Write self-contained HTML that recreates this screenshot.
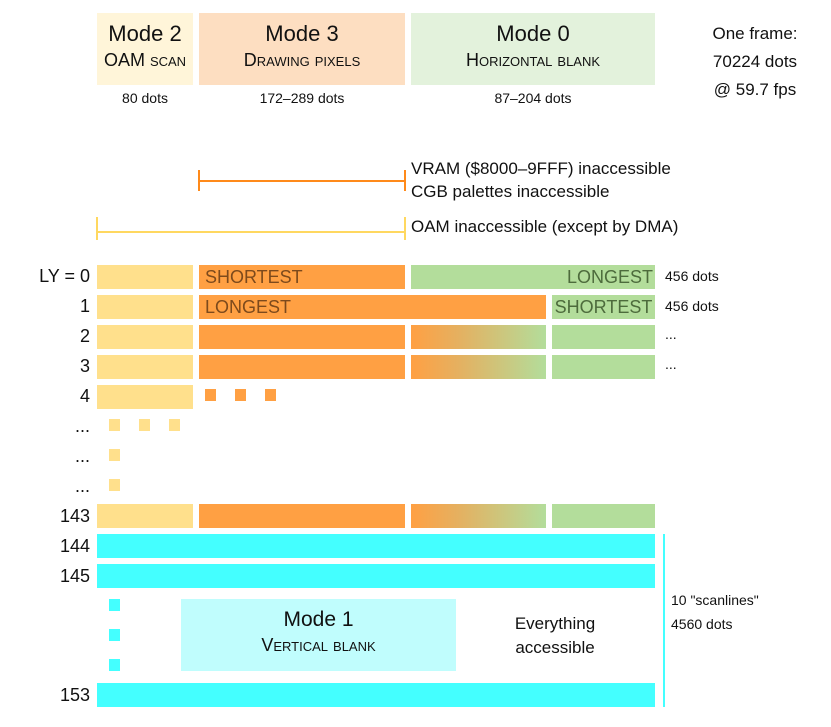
<!DOCTYPE html>
<html><head><meta charset="utf-8"><style>
body{margin:0;width:831px;height:727px;background:#fff;position:relative;overflow:hidden;font-family:"Liberation Sans","DejaVu Sans",sans-serif;color:#111}
div{position:absolute;box-sizing:border-box}
.t{white-space:nowrap}
.y{background:#ffe08c}.o{background:#ffa043}.g{background:#b3dd9b}.c{background:#44ffff}
.gr{background:linear-gradient(to right,#ffa043,#e5b060 35%,#b3dd9b)}
.lbl{width:60px;text-align:right;left:30px;font-size:18px}
.bt{font-size:18px;line-height:24px;padding:0 6px}
.sc{font-variant:small-caps}
</style></head><body>
<div style="left:97px;top:13px;width:96px;height:72px;background:#fff5d9;text-align:center">
 <div class="t" style="width:100%;top:8px;font-size:22px">Mode 2</div>
 <div class="t sc" style="width:100%;top:37px;font-size:18px">OAM scan</div></div>
<div style="left:199px;top:13px;width:206px;height:72px;background:#fddec1;text-align:center">
 <div class="t" style="width:100%;top:8px;font-size:22px">Mode 3</div>
 <div class="t sc" style="width:100%;top:37px;font-size:18px">Drawing pixels</div></div>
<div style="left:411px;top:13px;width:244px;height:72px;background:#e3f2dc;text-align:center">
 <div class="t" style="width:100%;top:8px;font-size:22px">Mode 0</div>
 <div class="t sc" style="width:100%;top:37px;font-size:18px">Horizontal blank</div></div>
<div class="t" style="left:97px;width:96px;top:90px;text-align:center;font-size:14px">80 dots</div>
<div class="t" style="left:199px;width:206px;top:90px;text-align:center;font-size:14px">172–289 dots</div>
<div class="t" style="left:411px;width:244px;top:90px;text-align:center;font-size:14px">87–204 dots</div>
<div class="t" style="left:690px;width:130px;top:20px;text-align:center;font-size:17px;line-height:28px">One frame:<br>70224 dots<br>@ 59.7 fps</div>

<div style="left:199px;top:180px;width:206px;height:2px;background:#ff8a1a"></div>
<div style="left:198px;top:170px;width:2px;height:21px;background:#ff8a1a"></div>
<div style="left:404px;top:170px;width:2px;height:21px;background:#ff8a1a"></div>
<div class="t" style="left:411px;top:157px;font-size:17px;line-height:23px">VRAM ($8000–9FFF) inaccessible<br>CGB palettes inaccessible</div>
<div style="left:97px;top:231px;width:308px;height:2px;background:#ffd860"></div>
<div style="left:96px;top:217px;width:2px;height:23px;background:#ffd860"></div>
<div style="left:404px;top:217px;width:2px;height:23px;background:#ffd860"></div>
<div class="t" style="left:411px;top:217px;font-size:17px">OAM inaccessible (except by DMA)</div>

<div class="lbl t" style="top:266px">LY = 0</div>
<div class="y" style="left:97px;top:265px;width:96px;height:24px"></div>
<div class="o bt t" style="left:199px;top:265px;width:206px;height:24px;color:#7d4a1c">SHORTEST</div>
<div class="g bt t" style="left:411px;top:265px;width:244px;height:24px;color:#4d6b3c;text-align:right;padding-right:2px">LONGEST</div>
<div class="t" style="left:665px;top:268px;font-size:14px">456 dots</div>

<div class="lbl t" style="top:296px">1</div>
<div class="y" style="left:97px;top:295px;width:96px;height:24px"></div>
<div class="o bt t" style="left:199px;top:295px;width:347px;height:24px;color:#7d4a1c">LONGEST</div>
<div class="g bt t" style="left:552px;top:295px;width:103px;height:24px;color:#4d6b3c;padding:0;text-align:center">SHORTEST</div>
<div class="t" style="left:665px;top:298px;font-size:14px">456 dots</div>

<div class="lbl t" style="top:326px">2</div>
<div class="y" style="left:97px;top:325px;width:96px;height:24px"></div>
<div class="o" style="left:199px;top:325px;width:206px;height:24px"></div>
<div class="gr" style="left:411px;top:325px;width:135px;height:24px"></div>
<div class="g" style="left:552px;top:325px;width:103px;height:24px"></div>
<div class="t" style="left:665px;top:326px;font-size:14px">...</div>

<div class="lbl t" style="top:356px">3</div>
<div class="y" style="left:97px;top:355px;width:96px;height:24px"></div>
<div class="o" style="left:199px;top:355px;width:206px;height:24px"></div>
<div class="gr" style="left:411px;top:355px;width:135px;height:24px"></div>
<div class="g" style="left:552px;top:355px;width:103px;height:24px"></div>
<div class="t" style="left:665px;top:356px;font-size:14px">...</div>

<div class="lbl t" style="top:386px">4</div>
<div class="y" style="left:97px;top:385px;width:96px;height:24px"></div>
<div class="o" style="left:205px;top:389px;width:11px;height:12px"></div>
<div class="o" style="left:235px;top:389px;width:11px;height:12px"></div>
<div class="o" style="left:265px;top:389px;width:11px;height:12px"></div>

<div class="lbl t" style="top:416px">...</div>
<div class="y" style="left:109px;top:419px;width:11px;height:12px"></div>
<div class="y" style="left:139px;top:419px;width:11px;height:12px"></div>
<div class="y" style="left:169px;top:419px;width:11px;height:12px"></div>
<div class="lbl t" style="top:446px">...</div>
<div class="y" style="left:109px;top:449px;width:11px;height:12px"></div>
<div class="lbl t" style="top:476px">...</div>
<div class="y" style="left:109px;top:479px;width:11px;height:12px"></div>

<div class="lbl t" style="top:506px">143</div>
<div class="y" style="left:97px;top:504px;width:96px;height:24px"></div>
<div class="o" style="left:199px;top:504px;width:206px;height:24px"></div>
<div class="gr" style="left:411px;top:504px;width:135px;height:24px"></div>
<div class="g" style="left:552px;top:504px;width:103px;height:24px"></div>

<div class="lbl t" style="top:536px">144</div>
<div class="c" style="left:97px;top:534px;width:558px;height:24px"></div>
<div class="lbl t" style="top:566px">145</div>
<div class="c" style="left:97px;top:564px;width:558px;height:24px"></div>
<div class="c" style="left:109px;top:599px;width:11px;height:12px"></div>
<div class="c" style="left:109px;top:629px;width:11px;height:12px"></div>
<div class="c" style="left:109px;top:659px;width:11px;height:12px"></div>
<div style="left:181px;top:599px;width:275px;height:72px;background:#c0fdfd;text-align:center">
 <div class="t" style="width:100%;top:9px;font-size:21px">Mode 1</div>
 <div class="t sc" style="width:100%;top:36px;font-size:18px">Vertical blank</div></div>
<div class="t" style="left:490px;width:130px;top:612px;text-align:center;font-size:17px;line-height:24px">Everything<br>accessible</div>
<div class="lbl t" style="top:685px">153</div>
<div class="c" style="left:97px;top:683px;width:558px;height:24px"></div>
<div style="left:663px;top:534px;width:2px;height:173px;background:#44ffff"></div>
<div class="t" style="left:671px;top:588px;font-size:14px;line-height:24px">10 "scanlines"<br>4560 dots</div>
</body></html>
